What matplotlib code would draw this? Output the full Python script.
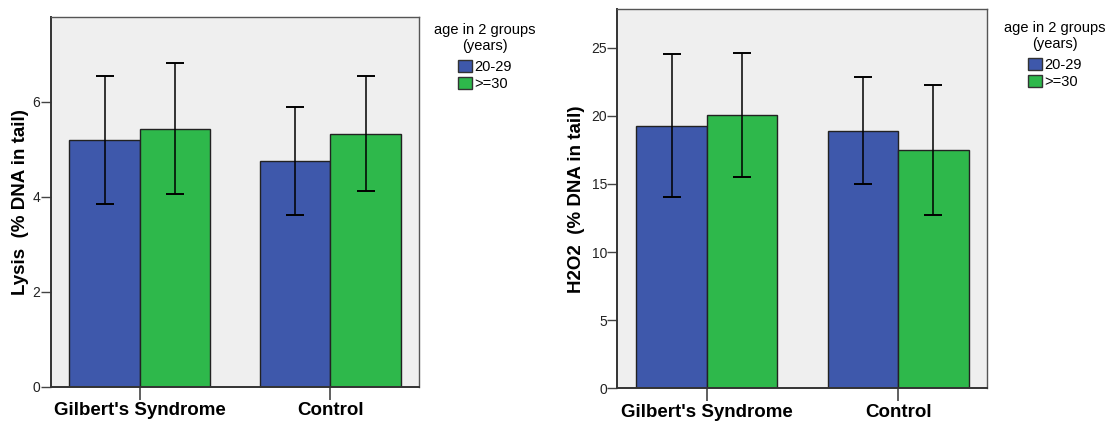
import numpy as np
import matplotlib.pyplot as plt
from matplotlib.patches import Patch

plt.rcParams['font.family'] = ['Liberation Sans', 'DejaVu Sans']

# Comet assay results, mean with 95% CI, by group and age
categories = ["Gilbert's Syndrome", "Control"]
age_groups = ["20-29", ">=30"]

lysis_mean = {"20-29": [5.19, 4.75], ">=30": [5.43, 5.33]}
lysis_low = {"20-29": [3.85, 3.61], ">=30": [4.06, 4.12]}
lysis_high = {"20-29": [6.54, 5.89], ">=30": [6.81, 6.54]}

h2o2_mean = {"20-29": [19.28, 18.91], ">=30": [20.07, 17.47]}
h2o2_low = {"20-29": [14.05, 15.00], ">=30": [15.51, 12.75]}
h2o2_high = {"20-29": [24.55, 22.88], ">=30": [24.64, 22.27]}

colors = {"20-29": "#3e58ab", ">=30": "#2eb84b"}
bar_w = 0.369


def draw_panel(ax, means, lows, highs, ylabel, ymax, yticks):
    x = np.arange(len(categories))
    ax.set_facecolor("#efefef")
    for i, grp in enumerate(age_groups):
        pos = x + (i - 0.5) * bar_w
        m = np.array(means[grp])
        lo = np.array(lows[grp])
        hi = np.array(highs[grp])
        ax.bar(pos, m, width=bar_w, color=colors[grp], edgecolor="#222222",
               linewidth=1.0, zorder=2)
        ax.errorbar(pos, m, yerr=[m - lo, hi - m], fmt="none", ecolor="black",
                    elinewidth=1.1, capsize=6.3, capthick=1.4, zorder=3)

    ax.set_xlim(-0.467, 1.467)
    ax.set_ylim(0, ymax)
    ax.set_yticks(yticks)
    ax.set_xticks(x)
    ax.set_xticklabels(categories, fontsize=13.5, fontweight="bold")
    ax.tick_params(axis="x", length=9, width=1.2, color="#444444", pad=2)
    ax.tick_params(axis="y", length=7, width=1.0, color="#444444", pad=0.5,
                   labelsize=10, labelcolor="#222222")
    ax.set_ylabel(ylabel, fontsize=13.5, fontweight="bold")

    for side in ["left", "bottom"]:
        ax.spines[side].set_linewidth(1.4)
        ax.spines[side].set_color("#333333")
    for side in ["top", "right"]:
        ax.spines[side].set_linewidth(1.0)
        ax.spines[side].set_color("#555555")

    handles = [Patch(facecolor=colors[g], edgecolor="#333333", linewidth=1.0)
               for g in age_groups]
    return handles


def add_legend(ax, handles, anchor):
    leg = ax.legend(handles, age_groups, title="age in 2 groups\n(years)",
                    loc="upper center", bbox_to_anchor=anchor,
                    bbox_transform=fig.transFigure, frameon=False,
                    fontsize=10.5, title_fontsize=10.5, handlelength=0.98,
                    handleheight=0.9, handletextpad=0.15, labelspacing=0.18,
                    borderpad=0, borderaxespad=0)
    leg.get_title().set_multialignment("center")
    leg._legend_box.sep = 5
    return leg


fig = plt.figure(figsize=(11.08, 4.25), dpi=100)

ax1 = fig.add_axes([0.0458, 0.0901, 0.3327, 0.8706])
h = draw_panel(ax1, lysis_mean, lysis_low, lysis_high,
               "Lysis  (% DNA in tail)", 7.79, [0, 2, 4, 6])
ax1.yaxis.set_label_coords(-0.059, 0.5)
add_legend(ax1, h, (0.4377, 0.9465))

ax2 = fig.add_axes([0.5573, 0.0864, 0.3339, 0.8918])
h = draw_panel(ax2, h2o2_mean, h2o2_low, h2o2_high,
               "H2O2  (% DNA in tail)", 27.83, [0, 5, 10, 15, 20, 25])
ax2.yaxis.set_label_coords(-0.089, 0.5)
add_legend(ax2, h, (0.9522, 0.95))

fig.savefig("out.png", dpi=100)
